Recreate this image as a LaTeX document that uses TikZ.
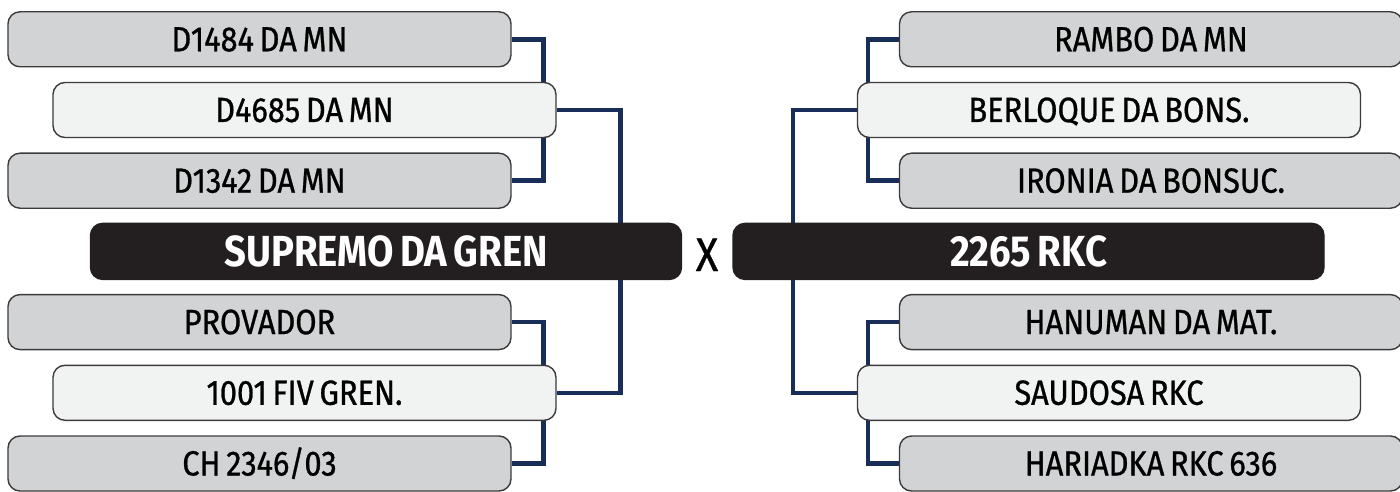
\documentclass[tikz,border=0pt]{standalone}
\usepackage{fontspec}
\usetikzlibrary{backgrounds}
\newfontfamily\namefont[FakeStretch=0.88,WordSpace=0.7]{Fira Sans}
\newfontfamily\thickfont[FakeStretch=0.88,WordSpace=0.7,FakeBold=0.8]{Fira Sans}
\definecolor{graybox}{RGB}{209,211,212}
\definecolor{lightbox}{RGB}{241,242,242}
\definecolor{blackbox}{RGB}{35,31,32}
\definecolor{boxline}{RGB}{60,58,60}
\definecolor{navy}{RGB}{24,45,88}

\begin{document}
\begin{tikzpicture}[x=1pt,y=-1pt]
\edef\sizebox{503pt}
\tikzstyle{horse}=[draw=boxline,line width=1.4pt,rounded corners=12pt,
  minimum width=\sizebox,minimum height=55pt,inner sep=0pt,
  text height=24pt,text depth=0pt,font=\fontsize{35}{40}\thickfont]
\tikzstyle{grand}=[horse,fill=graybox]
\tikzstyle{parent}=[horse,fill=lightbox]
\tikzstyle{champ}=[horse,fill=blackbox,draw=blackbox,text=white,
  minimum width=591pt,minimum height=56pt,text height=30pt,
  font=\fontsize{43.5}{48}\namefont\bfseries]
\tikzstyle{link}=[draw=navy,line width=4.5pt]

\useasboundingbox (0,0) rectangle (1400,492);

%% Left pedigree
\node [grand]  (lg1) at (259.5,39.3)  {D1484 DA MN};
\node [parent] (lp1) at (304.5,110)   {D4685 DA MN};
\node [grand]  (lg2) at (259.5,180.7) {D1342 DA MN};
\node [champ]  (left) at (386,251.4)  {SUPREMO DA GREN};
\node [grand]  (lg3) at (259.5,322.1) {PROVADOR};
\node [parent] (lp2) at (304.5,392.8) {1001 FIV GREN.};
\node [grand]  (lg4) at (259.5,463.5) {CH 2346/03};

%% Right pedigree
\node [grand]  (rg1) at (1151,39.3)   {RAMBO DA MN};
\node [parent] (rp1) at (1109,110)    {BERLOQUE DA BONS.};
\node [grand]  (rg2) at (1151,180.7)  {IRONIA DA BONSUC.};
\node [champ]  (right) at (1028.5,251.4) {2265 RKC};
\node [grand]  (rg3) at (1151,322.1)  {HANUMAN DA MAT.};
\node [parent] (rp2) at (1109,392.8)  {SAUDOSA RKC};
\node [grand]  (rg4) at (1151,463.5)  {HARIADKA RKC 636};

\node [inner sep=0pt,text height=34pt,text depth=0pt,
  font=\fontsize{47}{52}\thickfont] (versus) at (707,254) {X};

%% Brackets behind the boxes
\begin{scope}[on background layer]
\foreach \a/\b in {lg1/lg2,lg3/lg4}
  \draw[link] (\a.east) -- ++(32,0) |- (\b.east);
\draw[link] (lp1.east) -- ++(64,0) |- (lp2.east);
\foreach \a/\b in {rg1/rg2,rg3/rg4}
  \draw[link] (\a.west) -- ++(-31,0) |- (\b.west);
\draw[link] (rp1.west) -- ++(-64,0) |- (rp2.west);
\end{scope}

\end{tikzpicture}
\end{document}
